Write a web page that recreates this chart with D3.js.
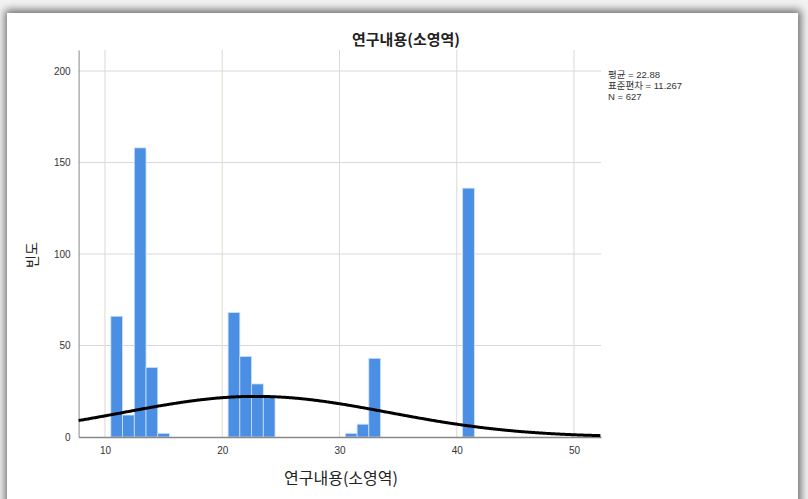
<!DOCTYPE html>
<html><head><meta charset="utf-8">
<script src="https://cdn.jsdelivr.net/npm/d3@7"></script>
<style>
html,body{margin:0;padding:0;background:#fff;}
svg{display:block;font-family:"Liberation Sans","Noto Sans CJK KR",sans-serif;}
.kr{font-family:"Noto Sans CJK KR","Liberation Sans",sans-serif;}
.st{font-family:"Liberation Sans","Noto Sans CJK KR",sans-serif;}
</style></head>
<body>
<svg id="c" width="808" height="499"></svg>
<script>
// ---- data ----
const binCenters = [11, 12, 13, 14, 15, 21, 22, 23, 24, 31, 32, 33, 41];
const counts     = [66, 12, 158, 38, 2, 68, 44, 29, 22, 2, 7, 43, 136];
const xTicks = [10, 20, 30, 40, 50];
const yTicks = [0, 50, 100, 150, 200];
const statLabels = ["평균 = 22.88", "표준편차 = 11.267", "N = 627"];
const meanVal = 22.88, sdVal = 11.267, nVal = 627, binWidth = 1;
const title = "연구내용(소영역)";
const xTitle = "연구내용(소영역)";
const yTitle = "빈도";

const svg = d3.select("#c");
// window shadow frame
const defs = svg.append("defs");
const f = defs.append("filter").attr("id","sh").attr("x","-10%").attr("y","-10%").attr("width","120%").attr("height","120%");
f.append("feGaussianBlur").attr("stdDeviation",4);
svg.append("rect").attr("width",808).attr("height",499).attr("fill","#f2f2f2");
svg.append("rect").attr("x",5).attr("y",10).attr("width",796).attr("height",520)
  .attr("fill","#6a6a6a").attr("filter","url(#sh)");
svg.append("rect").attr("x",7).attr("y",13).attr("width",791).attr("height",500).attr("fill","#fff");

const x = d3.scaleLinear().domain([7.75, 52.3]).range([78.6, 601]);
const y = d3.scaleLinear().domain([0, 211.5]).range([437, 50]);

const g = svg.append("g");
// gridlines
g.selectAll(".hg").data(yTicks.filter(d=>d>0)).join("line")
  .attr("x1",x.range()[0]).attr("x2",x.range()[1])
  .attr("y1",d=>y(d)).attr("y2",d=>y(d))
  .attr("stroke","#d8d8d8").attr("stroke-width",1);
g.selectAll(".vg").data(xTicks).join("line")
  .attr("x1",d=>x(d)).attr("x2",d=>x(d))
  .attr("y1",y.range()[1]).attr("y2",y(0))
  .attr("stroke","#ddd8d0").attr("stroke-width",1);

// bars
g.selectAll(".bar").data(binCenters).join("rect")
  .attr("x",(d)=>x(d-binWidth/2))
  .attr("width",(d)=>x(d+binWidth/2)-x(d-binWidth/2))
  .attr("y",(d,i)=>y(counts[i]))
  .attr("height",(d,i)=>y(0)-y(counts[i]))
  .attr("fill","#4a8fe3").attr("stroke","#cfe0f7").attr("stroke-width",0.8);

// axes
const yAxis = d3.axisLeft(y).tickValues(yTicks).tickSize(0).tickPadding(8);
const ya = g.append("g").attr("transform",`translate(${x.range()[0]},0)`).call(yAxis);
ya.select(".domain").attr("stroke","#888");
ya.selectAll("text").attr("font-size",10).attr("fill","#333");
const xAxis = d3.axisBottom(x).tickValues(xTicks).tickSize(0).tickPadding(10);
const xa = g.append("g").attr("transform",`translate(0,${y(0)})`).call(xAxis);
xa.select(".domain").attr("stroke","#888").attr("stroke-width",1.5);
xa.selectAll("text").attr("font-size",10).attr("fill","#333");

// normal curve from reported statistics
const curveXs = d3.range(x.domain()[0], x.domain()[1] + 0.01, 0.1);
const pdf = v => nVal*binWidth/(sdVal*Math.sqrt(2*Math.PI))*Math.exp(-0.5*((v-meanVal)/sdVal)**2);
g.append("path").datum(curveXs)
  .attr("d", d3.line().x(d=>x(d)).y(d=>y(pdf(d))).curve(d3.curveBasis))
  .attr("fill","none").attr("stroke","#000").attr("stroke-width",3);

// titles
svg.append("text").attr("class","kr").attr("x",406).attr("y",45).attr("text-anchor","middle")
  .attr("font-size",15).attr("font-weight","bold").attr("fill","#222").text(title);
svg.append("text").attr("class","kr").attr("x",341).attr("y",484).attr("text-anchor","middle")
  .attr("font-size",16).attr("fill","#222").text(xTitle);
svg.append("text").attr("class","kr").attr("transform","translate(37,255) rotate(-90)").attr("text-anchor","middle")
  .attr("font-size",14).attr("fill","#222").text(yTitle);

// stats
svg.selectAll(".st").data(statLabels).join("text").attr("class","st")
  .attr("x",608).attr("y",(d,i)=>78+i*11)
  .attr("font-size",9.5).attr("fill","#333").text(d=>d);
</script>
</body></html>
